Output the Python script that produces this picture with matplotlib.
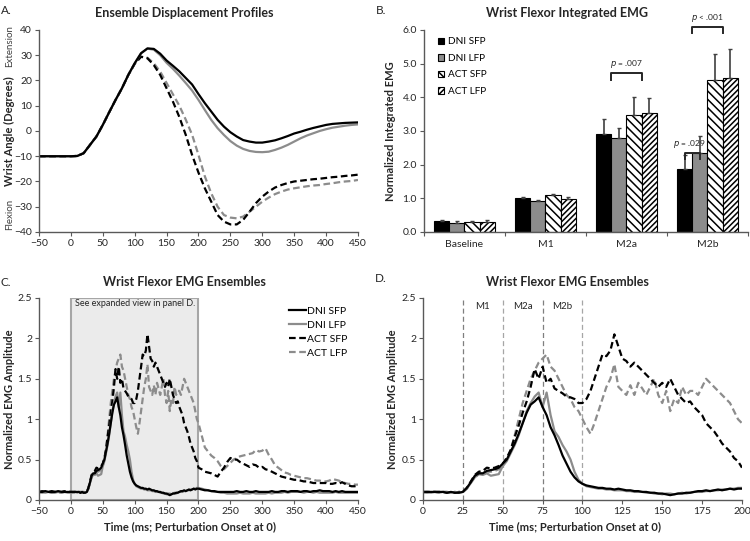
import numpy as np
import matplotlib
matplotlib.use("Agg")
import matplotlib.pyplot as plt
from matplotlib.lines import Line2D

plt.rcParams['font.family'] = ['Lato', 'DejaVu Sans']
plt.rcParams['hatch.linewidth'] = 1.1

# ---------------- data ----------------
# panel A : wrist angle, every 10 ms from -50 to 450
t_angle = np.arange(-50, 451, 10)
ang_dni_sfp = [-10, -10, -10, -10, -10, -10, -9.9, -8.8, -5.5, -2.2,
               2.4, 7.4, 12.3, 16.9, 22.2, 26.8, 30.8, 32.7, 32.5, 30.6,
               27.9, 25.8, 23.6, 21.0, 18.4, 14.6, 11.0, 7.7, 4.4, 1.7,
               -0.5, -2.2, -3.6, -4.2, -4.6, -4.6, -4.2, -3.7, -2.9, -2.0,
               -1.0, -0.3, 0.5, 1.2, 1.8, 2.4, 2.8, 3.0, 3.2, 3.3, 3.4]
ang_dni_lfp = [-10, -10, -10, -10, -10, -10, -9.9, -8.8, -5.5, -2.2,
               2.4, 7.4, 12.3, 16.9, 22.2, 26.8, 30.8, 32.6, 32.2, 30.0,
               27.0, 24.6, 21.9, 19.0, 16.0, 12.3, 8.3, 4.4, 1.1, -1.6,
               -4.0, -5.8, -7.1, -7.9, -8.3, -8.4, -8.2, -7.5, -6.6, -5.5,
               -4.2, -2.9, -1.8, -0.9, 0.0, 0.7, 1.3, 1.7, 2.1, 2.4, 2.6]
ang_act_sfp = [-10, -10, -10, -10, -10, -10, -9.9, -8.8, -5.5, -2.2,
               2.4, 7.4, 12.3, 16.9, 22.2, 26.6, 29.4, 28.8, 26.1, 22.2,
               16.9, 11.6, 5.5, -1.5, -9.5, -16.5, -22.7, -28.0, -33.3, -35.9,
               -37.0, -37.0, -35.2, -32.0, -28.6, -26.0, -24.0, -22.4, -21.4, -20.6,
               -20.0, -19.7, -19.4, -19.1, -18.9, -18.6, -18.3, -18.1, -17.8, -17.6, -17.3]
ang_act_lfp = [-10, -10, -10, -10, -10, -10, -9.9, -8.8, -5.5, -2.2,
               2.4, 7.4, 12.3, 16.9, 22.2, 26.6, 29.4, 29.0, 26.8, 23.5,
               19.0, 14.5, 10.0, 4.5, -1.5, -9.5, -18.0, -24.7, -30.0, -33.3,
               -34.3, -34.6, -33.9, -32.0, -30.0, -28.0, -26.4, -25.0, -24.0, -23.2,
               -22.7, -22.3, -21.9, -21.6, -21.4, -21.0, -20.7, -20.3, -20.0, -19.8, -19.4]

# panel B : integrated EMG
phases = ['Baseline', 'M1', 'M2a', 'M2b']
conditions = ['DNI SFP', 'DNI LFP', 'ACT SFP', 'ACT LFP']
iemg = [[0.32, 1.01, 2.90, 1.88],
        [0.28, 0.92, 2.80, 2.35],
        [0.31, 1.09, 3.48, 4.52],
        [0.31, 0.99, 3.52, 4.57]]
iemg_err = [[0.04, 0.04, 0.45, 0.40],
            [0.04, 0.04, 0.30, 0.49],
            [0.03, 0.03, 0.52, 0.78],
            [0.04, 0.04, 0.47, 0.85]]

# panels C/D : EMG ensembles
t_pre = np.arange(-50, 0, 5)
t_mid = np.arange(0, 200.1, 2.5)
t_post = np.arange(205, 451, 5)

emg_dni_sfp_pre = [0.10, 0.10, 0.11, 0.10, 0.10, 0.10, 0.11, 0.10, 0.10, 0.10]
emg_dni_lfp_pre = [0.09, 0.10, 0.09, 0.10, 0.09, 0.09, 0.10, 0.09, 0.10, 0.09]
emg_act_sfp_pre = [0.10, 0.11, 0.10, 0.10, 0.11, 0.10, 0.10, 0.10, 0.11, 0.10]
emg_act_lfp_pre = [0.10, 0.09, 0.10, 0.10, 0.09, 0.10, 0.10, 0.09, 0.10, 0.10]

emg_dni_sfp = [0.10, 0.10, 0.10, 0.10, 0.10, 0.10, 0.09, 0.10, 0.09, 0.09,
               0.10, 0.15, 0.22, 0.30, 0.33, 0.33, 0.36, 0.37, 0.38, 0.40,
               0.45, 0.50, 0.60, 0.70, 0.82, 0.95, 1.08, 1.18, 1.22, 1.27,
               1.15, 1.05, 0.90, 0.80, 0.68, 0.55, 0.45, 0.35, 0.28, 0.23,
               0.20, 0.18, 0.17, 0.16, 0.15, 0.15, 0.14, 0.14, 0.13, 0.14,
               0.13, 0.12, 0.12, 0.11, 0.11, 0.10, 0.10, 0.09, 0.09, 0.08,
               0.08, 0.07, 0.06, 0.07, 0.08, 0.08, 0.09, 0.09, 0.10, 0.11,
               0.11, 0.12, 0.11, 0.12, 0.13, 0.12, 0.13, 0.14, 0.13, 0.14,
               0.14]
emg_dni_lfp = [0.09, 0.10, 0.09, 0.10, 0.09, 0.10, 0.10, 0.09, 0.10, 0.09,
               0.10, 0.14, 0.21, 0.28, 0.32, 0.31, 0.33, 0.30, 0.31, 0.32,
               0.42, 0.48, 0.58, 0.68, 0.80, 0.95, 1.10, 1.20, 1.28, 1.33,
               1.15, 1.33, 1.05, 0.85, 0.78, 0.68, 0.60, 0.50, 0.35, 0.25,
               0.20, 0.17, 0.16, 0.15, 0.14, 0.14, 0.13, 0.13, 0.12, 0.12,
               0.12, 0.11, 0.11, 0.10, 0.10, 0.10, 0.09, 0.09, 0.08, 0.08,
               0.07, 0.08, 0.08, 0.07, 0.08, 0.09, 0.08, 0.09, 0.10, 0.10,
               0.10, 0.11, 0.11, 0.12, 0.12, 0.13, 0.13, 0.14, 0.14, 0.15,
               0.15]
emg_act_sfp = [0.10, 0.10, 0.10, 0.10, 0.10, 0.10, 0.09, 0.10, 0.09, 0.10,
               0.10, 0.15, 0.23, 0.31, 0.35, 0.36, 0.40, 0.39, 0.40, 0.42,
               0.45, 0.52, 0.62, 0.78, 0.92, 1.08, 1.22, 1.40, 1.62, 1.50,
               1.65, 1.45, 1.50, 1.38, 1.35, 1.32, 1.28, 1.27, 1.25, 1.20,
               1.20, 1.25, 1.35, 1.50, 1.65, 1.80, 1.78, 1.85, 2.05, 1.90,
               1.75, 1.72, 1.65, 1.70, 1.65, 1.60, 1.55, 1.50, 1.45, 1.40,
               1.45, 1.40, 1.50, 1.40, 1.30, 1.25, 1.20, 1.22, 1.15, 1.10,
               1.05, 0.95, 0.90, 0.85, 0.78, 0.70, 0.65, 0.60, 0.52, 0.48,
               0.40]
emg_act_lfp = [0.10, 0.09, 0.10, 0.10, 0.09, 0.10, 0.10, 0.09, 0.10, 0.09,
               0.10, 0.14, 0.22, 0.28, 0.32, 0.33, 0.35, 0.35, 0.36, 0.38,
               0.42, 0.50, 0.62, 0.80, 1.00, 1.20, 1.35, 1.50, 1.60, 1.70,
               1.75, 1.80, 1.65, 1.60, 1.50, 1.40, 1.30, 1.25, 1.15, 1.10,
               1.00, 0.90, 0.82, 0.95, 1.10, 1.25, 1.40, 1.50, 1.68, 1.40,
               1.35, 1.30, 1.42, 1.30, 1.45, 1.38, 1.30, 1.40, 1.50, 1.30,
               1.20, 1.35, 1.10, 1.25, 1.20, 1.40, 1.30, 1.35, 1.35, 1.30,
               1.40, 1.50, 1.45, 1.40, 1.35, 1.30, 1.25, 1.20, 1.10, 1.00,
               0.95]

emg_dni_sfp_post = [0.13, 0.12, 0.12, 0.11, 0.11, 0.10, 0.10, 0.10, 0.10, 0.10,
                    0.10, 0.11, 0.10, 0.10, 0.11, 0.10, 0.10, 0.11, 0.10, 0.10,
                    0.10, 0.10, 0.11, 0.10, 0.10, 0.11, 0.11, 0.10, 0.11, 0.11,
                    0.11, 0.10, 0.11, 0.11, 0.10, 0.11, 0.11, 0.12, 0.11, 0.11,
                    0.11, 0.10, 0.11, 0.10, 0.11, 0.10, 0.10, 0.10, 0.10, 0.10]
emg_dni_lfp_post = [0.14, 0.13, 0.12, 0.11, 0.10, 0.10, 0.09, 0.09, 0.08, 0.08,
                    0.08, 0.08, 0.09, 0.08, 0.08, 0.08, 0.09, 0.08, 0.08, 0.08,
                    0.08, 0.09, 0.08, 0.09, 0.09, 0.09, 0.10, 0.09, 0.10, 0.10,
                    0.10, 0.10, 0.09, 0.10, 0.10, 0.09, 0.10, 0.09, 0.09, 0.09,
                    0.09, 0.09, 0.10, 0.09, 0.09, 0.09, 0.09, 0.09, 0.09, 0.09]
emg_act_sfp_post = [0.38, 0.35, 0.34, 0.33, 0.31, 0.29, 0.35, 0.40, 0.47, 0.52,
                    0.50, 0.50, 0.47, 0.45, 0.43, 0.41, 0.44, 0.43, 0.40, 0.41,
                    0.38, 0.37, 0.35, 0.33, 0.31, 0.29, 0.28, 0.27, 0.26, 0.25,
                    0.25, 0.24, 0.23, 0.23, 0.22, 0.21, 0.21, 0.21, 0.21, 0.21,
                    0.20, 0.20, 0.21, 0.20, 0.22, 0.20, 0.18, 0.17, 0.17, 0.18]
emg_act_lfp_post = [0.80, 0.65, 0.60, 0.55, 0.52, 0.48, 0.42, 0.38, 0.42, 0.46,
                    0.50, 0.52, 0.54, 0.55, 0.56, 0.57, 0.58, 0.62, 0.60, 0.61,
                    0.64, 0.56, 0.50, 0.43, 0.40, 0.37, 0.34, 0.33, 0.31, 0.30,
                    0.29, 0.28, 0.27, 0.27, 0.26, 0.25, 0.24, 0.24, 0.23, 0.23,
                    0.24, 0.26, 0.25, 0.24, 0.22, 0.21, 0.20, 0.20, 0.19, 0.19]

phase_bounds = [25, 50, 75, 100]
phase_names = ['M1', 'M2a', 'M2b']

# ---------------- styles ----------------
BLACK = '#000000'
GRAY = '#8c8c8c'
AXC = '#595959'
TXT = '#262626'
DASH = (0, (3, 1.6))
styles = [dict(color=BLACK, ls='-'), dict(color=GRAY, ls='-'),
          dict(color=BLACK, ls=DASH), dict(color=GRAY, ls=DASH)]


def style_axes(ax):
    for s in ['top', 'right']:
        ax.spines[s].set_visible(False)
    for s in ['left', 'bottom']:
        ax.spines[s].set_color(AXC)
        ax.spines[s].set_linewidth(1.0)
    ax.tick_params(colors=AXC, labelcolor=TXT, labelsize=7.5, length=3, width=0.8, pad=2)


fig = plt.figure(figsize=(7.5, 5.41), dpi=100)

# ---------------- A ----------------
axA = fig.add_axes([0.052, 0.5712, 0.4253, 0.3734])
angles = [ang_dni_sfp, ang_dni_lfp, ang_act_sfp, ang_act_lfp]
for y, st in reversed(list(zip(angles, styles))):
    axA.plot(t_angle, y, lw=1.6, **st)
axA.set_xlim(-50, 450)
axA.set_ylim(-40, 40)
axA.set_xticks(np.arange(-50, 451, 50))
axA.set_yticks(np.arange(-40, 41, 10))
style_axes(axA)

# ---------------- B ----------------
axB = fig.add_axes([0.5653, 0.5712, 0.432, 0.3734])
x = np.arange(len(phases))
w = 0.1875
faces = [BLACK, GRAY, 'white', 'white']
hatches = [None, None, '\\\\\\\\', '//////']
for i in range(4):
    axB.bar(x + (i - 1.5) * w, iemg[i], w, color=faces[i], edgecolor='black',
            linewidth=0.8, hatch=hatches[i], label=conditions[i], zorder=2)
    axB.errorbar(x + (i - 1.5) * w, iemg[i], yerr=[np.zeros(4), iemg_err[i]],
                 fmt='none', ecolor='#404040', elinewidth=1.2, capsize=1.5, zorder=3)
axB.set_xlim(-0.5, 3.5)
axB.set_ylim(0, 6)
axB.set_yticks(np.arange(0, 6.1, 1))
axB.set_yticklabels(['%.1f' % v for v in np.arange(0, 6.1, 1)])
axB.set_xticks(np.arange(-0.5, 3.6, 1))
axB.set_xticklabels([])
axB.set_xticks(x, minor=True)
axB.set_xticklabels(phases, minor=True)
style_axes(axB)
axB.tick_params(axis='x', which='minor', length=0, pad=6, labelsize=7.5, labelcolor=TXT)
axB.legend(loc='upper left', bbox_to_anchor=(0.02, 1.0), frameon=False, fontsize=7.2,
           handlelength=0.6, handleheight=0.6, handletextpad=0.4, labelspacing=0.75,
           borderpad=0.25)


def bracket(ax, x0, x1, ytop, drop, label, dx=0.0):
    ax.plot([x0, x0, x1, x1], [ytop - drop, ytop, ytop, ytop - drop], color='#262626',
            lw=1.4, clip_on=False, zorder=4)
    ax.text((x0 + x1) / 2 + dx, ytop + 0.1, label, ha='center', va='bottom', fontsize=6,
            color=TXT, clip_on=False, zorder=5)


bracket(axB, 2 - w, 2 + w, 4.71, 0.2, r'$\it{p}$ = .007')
bracket(axB, 3 - 1.5 * w, 3 - 0.5 * w, 2.34, 0.18, r'$\it{p}$ = .029', dx=-0.04)
bracket(axB, 3 - w, 3 + w, 6.08, 0.18, r'$\it{p}$ < .001')

# ---------------- C ----------------
axC = fig.add_axes([0.052, 0.0758, 0.4253, 0.3734])
t_full = np.concatenate([t_pre, t_mid, t_post])
emg_full = [np.concatenate([emg_dni_sfp_pre, emg_dni_sfp, emg_dni_sfp_post]),
            np.concatenate([emg_dni_lfp_pre, emg_dni_lfp, emg_dni_lfp_post]),
            np.concatenate([emg_act_sfp_pre, emg_act_sfp, emg_act_sfp_post]),
            np.concatenate([emg_act_lfp_pre, emg_act_lfp, emg_act_lfp_post])]
axC.axvspan(0, 200, facecolor='#ebebeb', edgecolor='#a6a6a6', lw=1.5, zorder=0)
for y, st in reversed(list(zip(emg_full, styles))):
    axC.plot(t_full, y, lw=1.6, **st)
axC.text(100, 2.43, 'See expanded view in panel D.', ha='center', va='center',
         fontsize=6.5, color=TXT)
axC.set_xlim(-50, 450)
axC.set_ylim(0, 2.5)
axC.set_xticks(np.arange(-50, 451, 50))
axC.set_yticks([0, 0.5, 1, 1.5, 2, 2.5])
axC.set_yticklabels(['0', '0.5', '1', '1.5', '2', '2.5'])
style_axes(axC)
handles = [Line2D([], [], lw=1.6, **st) for st in styles]
axC.legend(handles, conditions, loc='upper right', bbox_to_anchor=(0.99, 0.995),
           frameon=False, fontsize=7.5, handlelength=1.6, handletextpad=0.1,
           labelspacing=0.45, borderpad=0.2)

# ---------------- D ----------------
axD = fig.add_axes([0.564, 0.0758, 0.4253, 0.3734])
emg_mid = [emg_dni_sfp, emg_dni_lfp, emg_act_sfp, emg_act_lfp]
for i, b in enumerate(phase_bounds):
    axD.axvline(b, color='#7f7f7f' if i % 2 == 0 else '#a6a6a6', lw=0.9,
                ls=(0, (4, 2.5)), zorder=1)
for i, name in enumerate(phase_names):
    axD.text((phase_bounds[i] + phase_bounds[i + 1]) / 2, 2.4, name, ha='center',
             va='center', fontsize=7, color=TXT)
for y, st in reversed(list(zip(emg_mid, styles))):
    axD.plot(t_mid, y, lw=1.6, **st)
axD.set_xlim(0, 200)
axD.set_ylim(0, 2.5)
axD.set_xticks(np.arange(0, 201, 25))
axD.set_yticks([0, 0.5, 1, 1.5, 2, 2.5])
axD.set_yticklabels(['0', '0.5', '1', '1.5', '2', '2.5'])
style_axes(axD)

# ---------------- texts ----------------
title_kw = dict(ha='center', va='center', fontsize=9, fontweight='bold', color=TXT)
fig.text(0.2453, 0.976, 'Ensemble Displacement Profiles', **title_kw)
fig.text(0.756, 0.976, 'Wrist Flexor Integrated EMG', **title_kw)
fig.text(0.2453, 0.4787, 'Wrist Flexor EMG Ensembles', **title_kw)
fig.text(0.756, 0.4787, 'Wrist Flexor EMG Ensembles', **title_kw)

lab_kw = dict(ha='left', va='center', fontsize=8.5, color=TXT)
fig.text(0.001, 0.9815, 'A.', **lab_kw)
fig.text(0.5013, 0.9815, 'B.', **lab_kw)
fig.text(0.001, 0.4787, 'C.', **lab_kw)
fig.text(0.5, 0.486, 'D.', **lab_kw)

yl_kw = dict(ha='center', va='center', rotation=90, fontsize=8, fontweight='bold', color=TXT)
fig.text(0.0133, 0.758, 'Wrist Angle (Degrees)', **yl_kw)
fig.text(0.0133, 0.914, 'Extension', ha='center', va='center', rotation=90,
         fontsize=7, color='#404040')
fig.text(0.0133, 0.604, 'Flexion', ha='center', va='center', rotation=90,
         fontsize=7, color='#404040')
fig.text(0.52, 0.758, 'Normalized Integrated EMG', **yl_kw)
fig.text(0.0133, 0.2625, 'Normalized EMG Amplitude', **yl_kw)
fig.text(0.5227, 0.2625, 'Normalized EMG Amplitude', **yl_kw)

xl_kw = dict(ha='center', va='center', fontsize=8, fontweight='bold', color=TXT)
fig.text(0.2533, 0.0259, 'Time (ms; Perturbation Onset at 0)', **xl_kw)
fig.text(0.7667, 0.0259, 'Time (ms; Perturbation Onset at 0)', **xl_kw)

fig.savefig('out.png', dpi=100)
